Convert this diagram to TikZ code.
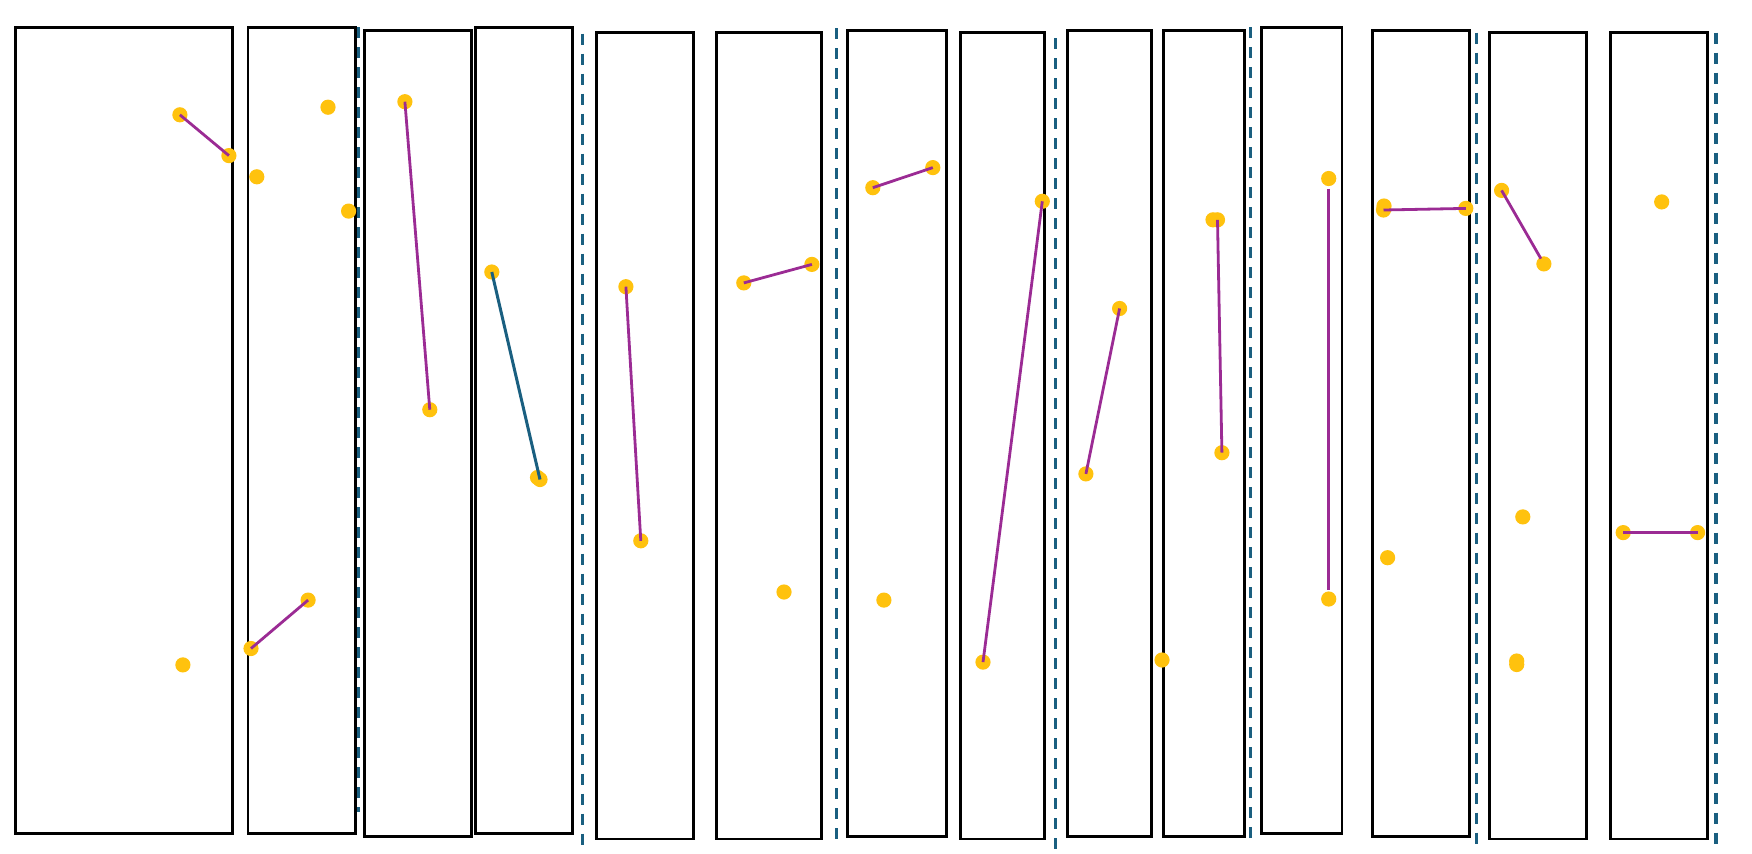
\documentclass[tikz,border=0pt]{standalone}
\usepackage{tikz}
\definecolor{dotc}{HTML}{FFC20E}
\definecolor{linkc}{HTML}{9B2B94}
\definecolor{tealc}{HTML}{1A5F80}
\tikzset{
  panel/.style={draw=black, line width=1.45pt},
  sep/.style={draw=tealc, line width=1.6pt, dash pattern=on 5.5pt off 4.5pt},
  dot/.style={circle, fill=dotc, draw=none, inner sep=0pt, minimum size=7.6pt},
  link/.style={draw=linkc, line width=1.4pt},
  tlink/.style={draw=tealc, line width=1.5pt}
}
\begin{document}
\begin{tikzpicture}[x=0.5pt, y=-0.5pt]
\useasboundingbox (0,0) rectangle (1752,853);
% panels
\draw[panel] (15.3,27.2) rectangle (232.7,833.5);
\draw[panel] (248,27.2) rectangle (355.5,833.5);
\draw[panel] (364.3,30.5) rectangle (471.5,836.8);
\draw[panel] (475.3,27.2) rectangle (572.5,833.5);
\draw[panel] (596.5,32.6) rectangle (693.7,839);
\draw[panel] (716.6,32.6) rectangle (821.5,839);
\draw[panel] (847.5,30.5) rectangle (946.6,836.8);
\draw[panel] (960.8,32.6) rectangle (1044.6,839);
\draw[panel] (1067.2,30.5) rectangle (1151.8,836.8);
\draw[panel] (1163.8,30.5) rectangle (1244.6,836.8);
\draw[panel] (1261.2,27.2) rectangle (1342,833.5);
\draw[panel] (1372.9,30.5) rectangle (1469.6,836.8);
\draw[panel] (1489.6,32.6) rectangle (1586.6,839);
\draw[panel] (1610.4,32.6) rectangle (1707.4,839);
% separators
\coordinate (s1a) at (358.8,27.2);  \coordinate (s1b) at (358.8,812);
\coordinate (s2a) at (582.5,33.7);  \coordinate (s2b) at (582.5,846);
\coordinate (s3a) at (836.4,28.3);  \coordinate (s3b) at (836.4,839);
\coordinate (s4a) at (1055.7,38);   \coordinate (s4b) at (1055.7,848.7);
\coordinate (s5a) at (1250.2,27);   \coordinate (s5b) at (1250.2,840.6);
\coordinate (s6a) at (1476.3,32.6); \coordinate (s6b) at (1476.3,846);
\coordinate (s7a) at (1716,32.6);   \coordinate (s7b) at (1716,846);
\foreach \i in {1,...,7} { \draw[sep] (s\i a) -- (s\i b); }
% dots
\node[dot] (p1a) at (179.9,114.8) {};
\node[dot] (p1b) at (228.9,155.6) {};
\node[dot] (p1c) at (182.9,664.9) {};
\node[dot] (p2a) at (328,107.2) {};
\node[dot] (p2b) at (256.8,176.8) {};
\node[dot] (p2c) at (348.6,211.1) {};
\node[dot] (p2d) at (308.1,600.1) {};
\node[dot] (p2e) at (251,648.5) {};
\node[dot] (p3a) at (404.9,101.7) {};
\node[dot] (p3b) at (429.8,409.7) {};
\node[dot] (p4a) at (491.8,272) {};
\node[dot] (p4x) at (537.5,477.5) {};
\node[dot] (p4b) at (540,479.5) {};
\node[dot] (p5a) at (625.9,286.7) {};
\node[dot] (p5b) at (640.8,540.8) {};
\node[dot] (p6a) at (743.8,282.9) {};
\node[dot] (p6b) at (811.9,264.4) {};
\node[dot] (p6c) at (784,592) {};
\node[dot] (p7a) at (872.8,187.7) {};
\node[dot] (p7b) at (932.8,167.6) {};
\node[dot] (p7c) at (883.9,600.1) {};
\node[dot] (p8a) at (1042.3,201.3) {};
\node[dot] (p8b) at (983,662.1) {};
\node[dot] (p9a) at (1119.6,308.5) {};
\node[dot] (p9b) at (1085.9,473.9) {};
\node[dot] (p9c) at (1162,660) {};
\node[dot] (p10x) at (1213,219.8) {};
\node[dot] (p10a) at (1217.5,219.8) {};
\node[dot] (p10b) at (1221.9,452.7) {};
\node[dot] (p11a) at (1328.7,178.5) {};
\node[dot] (p11b) at (1328.7,599) {};
\node[dot] (p12x) at (1384,206) {};
\node[dot] (p12a) at (1383.5,210) {};
\node[dot] (p12b) at (1465.8,208.4) {};
\node[dot] (p12c) at (1387.6,557.7) {};
\node[dot] (p13a) at (1501.6,190.4) {};
\node[dot] (p13b) at (1543.9,263.9) {};
\node[dot] (p13c) at (1522.8,516.9) {};
\node[dot] (p13x) at (1516.7,661) {};
\node[dot] (p13d) at (1516.7,664.5) {};
\node[dot] (p14a) at (1661.7,201.9) {};
\node[dot] (p14b) at (1623.2,532.6) {};
\node[dot] (p14c) at (1697.6,532.6) {};
% links
\draw[link] (p1a.center) -- (p1b.center);
\draw[link] (p2d.center) -- (p2e.center);
\draw[link] (p3a.center) -- (p3b.center);
\draw[tlink] (p4a.center) -- (p4b.center);
\draw[link] (p5a.center) -- (p5b.center);
\draw[link] (p6a.center) -- (p6b.center);
\draw[link] (p7a.center) -- (p7b.center);
\draw[link] (p8a.center) -- (p8b.center);
\draw[link] (p9a.center) -- (p9b.center);
\draw[link] (p10a.center) -- (p10b.center);
\draw[link, shorten <=5pt, shorten >=4.5pt] (p11a.center) -- (p11b.center);
\draw[link] (p12a.center) -- (p12b.center);
\draw[link, shorten >=3pt] (p13a.center) -- (p13b.center);
\draw[link] (p14b.center) -- (p14c.center);
\end{tikzpicture}
\end{document}
